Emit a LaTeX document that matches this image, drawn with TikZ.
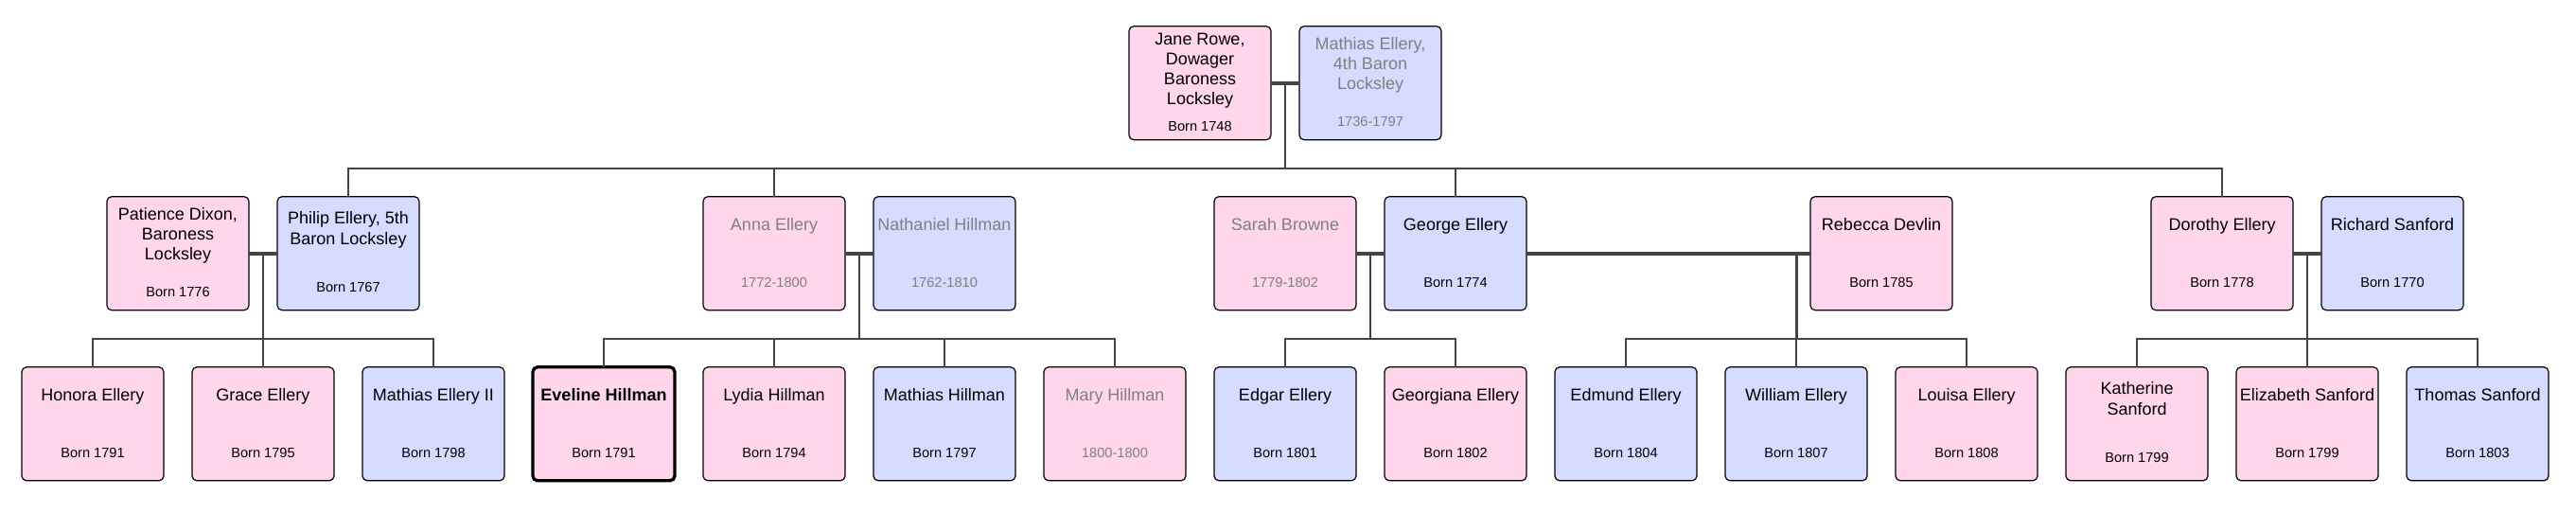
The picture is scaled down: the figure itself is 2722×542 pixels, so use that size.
\documentclass[tikz,border=0pt]{standalone}
\usepackage{fontspec}
\setmainfont{Liberation Sans}
\definecolor{pinkfill}{RGB}{255,214,236}
\definecolor{bluefill}{RGB}{214,220,255}
\definecolor{linegray}{RGB}{68,68,68}
\definecolor{deadtext}{RGB}{128,128,128}
\tikzset{
  pbox/.style={draw=black, line width=1.2pt, rounded corners=5pt, minimum width=150pt, minimum height=120pt, inner sep=0pt, outer sep=0pt},
  female/.style={fill=pinkfill},
  male/.style={fill=bluefill},
  focusbox/.style={line width=3.3pt},
  namet/.style={font=\fontsize{18}{21.3}\selectfont, align=center, inner sep=0pt},
  yeart/.style={font=\fontsize{14.6}{17}\selectfont, inner sep=0pt},
  alive/.style={text=black},
  dead/.style={text=deadtext},
  couple/.style={draw=linegray, line width=4pt},
  desc/.style={draw=linegray, line width=2.2pt, line join=miter},
}
\newcommand{\FamPerson}[8]{% id, x, y, boxstyle, textstyle, name, nlines, year
  \node[pbox,#4] (#1) at (#2,#3) {};
  \ifcase#7\or\def\FamNsh{28.8}\def\FamYsh{-36.1}\or\def\FamNsh{24.5}\def\FamYsh{-41}\or\def\FamNsh{18.6}\def\FamYsh{-45.8}\or\def\FamNsh{13}\def\FamYsh{-51.2}\fi
  \node[namet,#5,yshift=\FamNsh pt] (#1-name) at (#1.center) {\strut#6\strut};
  \node[yeart,#5,anchor=base,yshift=\FamYsh pt] (#1-year) at (#1.center) {#8};
}
\begin{document}
\begin{tikzpicture}[x=1pt,y=-1pt]
\useasboundingbox (0,0) rectangle (2722,542);
% generation 1
\FamPerson{jane}{1268}{87.7}{female}{alive}{Jane Rowe,\\Dowager\\Baroness\\Locksley}{4}{Born 1748}
\FamPerson{mathias}{1448}{87.7}{male}{dead}{Mathias Ellery,\\4th Baron\\Locksley}{3}{1736-1797}
% generation 2
\FamPerson{patience}{188}{267.7}{female}{alive}{Patience Dixon,\\Baroness\\Locksley}{3}{Born 1776}
\FamPerson{philip}{368}{267.7}{male}{alive}{Philip Ellery, 5th\\Baron Locksley}{2}{Born 1767}
\FamPerson{anna}{818}{267.7}{female}{dead}{Anna Ellery}{1}{1772-1800}
\FamPerson{nathaniel}{998}{267.7}{male}{dead}{Nathaniel Hillman}{1}{1762-1810}
\FamPerson{sarah}{1358}{267.7}{female}{dead}{Sarah Browne}{1}{1779-1802}
\FamPerson{george}{1538}{267.7}{male}{alive}{George Ellery}{1}{Born 1774}
\FamPerson{rebecca}{1988}{267.7}{female}{alive}{Rebecca Devlin}{1}{Born 1785}
\FamPerson{dorothy}{2348}{267.7}{female}{alive}{Dorothy Ellery}{1}{Born 1778}
\FamPerson{richard}{2528}{267.7}{male}{alive}{Richard Sanford}{1}{Born 1770}
% generation 3
\FamPerson{honora}{98}{447.8}{female}{alive}{Honora Ellery}{1}{Born 1791}
\FamPerson{grace}{278}{447.8}{female}{alive}{Grace Ellery}{1}{Born 1795}
\FamPerson{mathiasii}{458}{447.8}{male}{alive}{Mathias Ellery II}{1}{Born 1798}
\FamPerson{eveline}{638}{447.8}{female,focusbox}{alive}{\bfseries Eveline Hillman}{1}{Born 1791}
\FamPerson{lydia}{818}{447.8}{female}{alive}{Lydia Hillman}{1}{Born 1794}
\FamPerson{mathiash}{998}{447.8}{male}{alive}{Mathias Hillman}{1}{Born 1797}
\FamPerson{mary}{1178}{447.8}{female}{dead}{Mary Hillman}{1}{1800-1800}
\FamPerson{edgar}{1358}{447.8}{male}{alive}{Edgar Ellery}{1}{Born 1801}
\FamPerson{georgiana}{1538}{447.8}{female}{alive}{Georgiana Ellery}{1}{Born 1802}
\FamPerson{edmund}{1718}{447.8}{male}{alive}{Edmund Ellery}{1}{Born 1804}
\FamPerson{william}{1898}{447.8}{male}{alive}{William Ellery}{1}{Born 1807}
\FamPerson{louisa}{2078}{447.8}{female}{alive}{Louisa Ellery}{1}{Born 1808}
\FamPerson{katherine}{2258}{447.8}{female}{alive}{Katherine\\Sanford}{2}{Born 1799}
\FamPerson{elizabeth}{2438}{447.8}{female}{alive}{Elizabeth Sanford}{1}{Born 1799}
\FamPerson{thomas}{2618}{447.8}{male}{alive}{Thomas Sanford}{1}{Born 1803}
% bus levels
\coordinate (gbus) at (0,177.7);
\coordinate (cbus) at (0,357.7);
% generation 1 family
\draw[couple] (jane.east) -- coordinate (j0) (mathias.west);
\draw[desc] (j0) -- (j0 |- gbus);
\draw[desc] (philip.north) -- (philip.north |- gbus) -- (dorothy.north |- gbus) -- (dorothy.north);
\draw[desc] (anna.north |- gbus) -- (anna.north);
\draw[desc] (george.north |- gbus) -- (george.north);
% family 1
\draw[couple] (patience.east) -- coordinate (f1) (philip.west);
\draw[desc] (f1) -- (f1 |- cbus);
\draw[desc] (honora.north) -- (honora.north |- cbus) -- (mathiasii.north |- cbus) -- (mathiasii.north);
\draw[desc] (grace.north |- cbus) -- (grace.north);
% family 2
\draw[couple] (anna.east) -- coordinate (f2) (nathaniel.west);
\draw[desc] (f2) -- (f2 |- cbus);
\draw[desc] (eveline.north) -- (eveline.north |- cbus) -- (mary.north |- cbus) -- (mary.north);
\draw[desc] (lydia.north |- cbus) -- (lydia.north);
\draw[desc] (mathiash.north |- cbus) -- (mathiash.north);
% family 3
\draw[couple] (sarah.east) -- coordinate (f3) (george.west);
\draw[desc] (f3) -- (f3 |- cbus);
\draw[desc] (edgar.north) -- (edgar.north |- cbus) -- (georgiana.north |- cbus) -- (georgiana.north);
% family 4
\draw[couple] (george.east) -- (rebecca.west);
\coordinate (f4) at ([xshift=-14.5pt]rebecca.west);
\draw[desc] (f4) -- (f4 |- cbus);
\draw[desc] (edmund.north) -- (edmund.north |- cbus) -- (louisa.north |- cbus) -- (louisa.north);
\draw[desc] (william.north |- cbus) -- (william.north);
% family 5
\draw[couple] (dorothy.east) -- coordinate (f5) (richard.west);
\draw[desc] (f5) -- (f5 |- cbus);
\draw[desc] (katherine.north) -- (katherine.north |- cbus) -- (thomas.north |- cbus) -- (thomas.north);
\draw[desc] (elizabeth.north |- cbus) -- (elizabeth.north);
\end{tikzpicture}
\end{document}
